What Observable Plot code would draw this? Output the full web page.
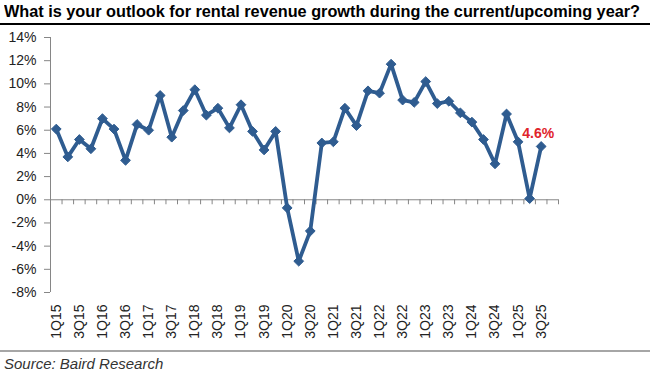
<!DOCTYPE html>
<html><head><meta charset="utf-8">
<script src="https://cdn.jsdelivr.net/npm/d3@7"></script>
<script src="https://cdn.jsdelivr.net/npm/@observablehq/plot@0.6"></script>
<style>
html,body{margin:0;padding:0;background:#fff;width:650px;height:376px;overflow:hidden;font-family:"Liberation Sans",Arial,sans-serif;}
#title{position:absolute;left:0;top:0;width:650px;height:23px;border-bottom:2px solid #000;}
#title span{position:absolute;left:4px;top:3px;font-weight:bold;font-size:16px;white-space:nowrap;transform-origin:0 0;color:#000;}
#chart{position:absolute;left:0;top:25px;}
#src{position:absolute;left:0;top:350px;width:650px;height:26px;border-top:2px solid #a6a6a6;}
#src span{position:absolute;left:4px;top:3px;font-style:italic;font-size:15px;color:#333;white-space:nowrap;}
</style></head>
<body>
<div id="title"><span id="tt">What is your outlook for rental revenue growth during the current/upcoming year?</span></div>
<div id="chart"></div>
<div id="src"><span>Source: Baird Research</span></div>
<script>
const quarters = ["1Q15","2Q15","3Q15","4Q15","1Q16","2Q16","3Q16","4Q16","1Q17","2Q17","3Q17","4Q17",
  "1Q18","2Q18","3Q18","4Q18","1Q19","2Q19","3Q19","4Q19","1Q20","2Q20","3Q20","4Q20",
  "1Q21","2Q21","3Q21","4Q21","1Q22","2Q22","3Q22","4Q22","1Q23","2Q23","3Q23","4Q23",
  "1Q24","2Q24","3Q24","4Q24","1Q25","2Q25","3Q25","4Q25"];
const growth = [6.1,3.7,5.2,4.4,7.0,6.1,3.4,6.5,6.0,9.0,5.4,7.7,
  9.5,7.3,7.9,6.2,8.2,5.9,4.3,5.9,-0.7,-5.3,-2.7,4.9,
  5.0,7.9,6.4,9.4,9.2,11.7,8.6,8.4,10.2,8.3,8.5,7.5,
  6.7,5.2,3.1,7.4,5.0,0.1,4.6,null];
const yTicks = [-8,-6,-4,-2,0,2,4,6,8,10,12,14];
const xTickLabels = ["1Q15","3Q15","1Q16","3Q16","1Q17","3Q17","1Q18","3Q18","1Q19","3Q19","1Q20","3Q20",
  "1Q21","3Q21","1Q22","3Q22","1Q23","3Q23","1Q24","3Q24","1Q25","3Q25"];
const calloutQuarter = "3Q25";
const calloutText = "4.6%";

const data = quarters.map((q, i) => ({i, q, v: growth[i]})).filter(d => d.v != null);
const boundaries = quarters.map((q, i) => i - 0.5).concat([quarters.length - 0.5]);
const xTicks = xTickLabels.map(l => quarters.indexOf(l));
const callout = data.filter(d => d.q === calloutQuarter);

const blue = "#2f5c90";
const axisGray = "#868686";

const chart = Plot.plot({
  width: 650, height: 325,
  marginLeft: 50, marginRight: 92, marginTop: 12, marginBottom: 58,
  style: {fontFamily: "'Liberation Sans', Arial, sans-serif", fontSize: "14px", background: "transparent", color: "#222"},
  x: {type: "linear", domain: [-0.5, quarters.length - 0.5], label: null, axis: null},
  y: {domain: [-8, 14], label: null, axis: null},
  marks: [
    Plot.ruleX([-0.5], {stroke: axisGray}),
    Plot.ruleY([0], {stroke: axisGray}),
    Plot.ruleX(boundaries, {x: d => d, y1: 0, y2: 0, insetBottom: -5, stroke: axisGray}),
    Plot.axisY({ticks: yTicks, tickFormat: d => d + "%", tickSize: 6, tickPadding: 8, fontSize: 14, stroke: axisGray, fill: "#222", label: null}),
    Plot.axisX({ticks: xTicks, tickFormat: i => quarters[i], tickRotate: -90, tickSize: 0, tickPadding: 12, fontSize: 14, fill: "#222", label: null}),
    Plot.line(data, {x: "i", y: "v", stroke: blue, strokeWidth: 3.8, strokeLinejoin: "miter"}),
    Plot.dot(data, {x: "i", y: "v", symbol: "diamond2", r: 4.4, fill: blue, stroke: blue, strokeWidth: 1}),
    Plot.text(callout, {x: "i", y: "v", text: () => calloutText, dy: -13, dx: -3, fill: "#e0242b", fontWeight: "bold", fontSize: 14})
  ]
});
document.getElementById("chart").appendChild(chart);

const tt = document.getElementById("tt");
const w = tt.getBoundingClientRect().width;
tt.style.transform = `scaleX(${636 / w})`;
</script>
</body></html>
